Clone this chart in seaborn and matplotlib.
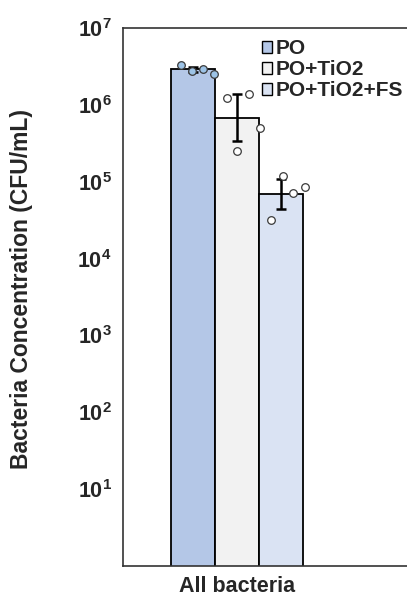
import numpy as np
import pandas as pd
import matplotlib
matplotlib.use("Agg")
import matplotlib.pyplot as plt
import seaborn as sns

# ---- data ----
category = ["All bacteria"]
groups = ["PO", "PO+TiO2", "PO+TiO2+FS"]
means = [2.9e6, 6.7e5, 6.9e4]
err_low = [2.7e6, 3.4e5, 4.4e4]
err_high = [3.1e6, 1.4e6, 1.1e5]
# replicate points per group
pts_PO = [3.27e6, 2.74e6, 2.9e6, 2.57e6]
pts_TiO2 = [1.25e6, 1.41e6, 5.0e5, 2.5e5]
pts_FS = [1.18e5, 8.5e4, 7.1e4, 3.2e4]
# horizontal jitter of replicate points (fraction of bar width)
jit_PO = [-0.27, -0.02, 0.23, 0.48]
jit_TiO2 = [-0.23, 0.27, 0.52, 0.0]
jit_FS = [0.05, 0.55, 0.27, -0.23]
ytick_vals = [1e1, 1e2, 1e3, 1e4, 1e5, 1e6, 1e7]
ytick_labels = [r"$\mathbf{10^{1}}$", r"$\mathbf{10^{2}}$", r"$\mathbf{10^{3}}$",
                r"$\mathbf{10^{4}}$", r"$\mathbf{10^{5}}$", r"$\mathbf{10^{6}}$",
                r"$\mathbf{10^{7}}$"]

bar_colors = ["#b4c7e7", "#f2f2f2", "#dae3f3"]
pt_face = ["#9dc3e6", "#ffffff", "#ffffff"]

sns.set_style("white")
plt.rcParams["font.family"] = ["Liberation Sans", "DejaVu Sans"]
plt.rcParams["font.weight"] = "bold"
plt.rcParams["mathtext.fontset"] = "custom"
plt.rcParams["mathtext.rm"] = "Liberation Sans:bold"
plt.rcParams["mathtext.bf"] = "Liberation Sans:bold"
plt.rcParams["mathtext.it"] = "Liberation Sans:bold"

fig = plt.figure(figsize=(4.07, 6.0), dpi=100)
ax = fig.add_axes([0.302, 0.057, 0.70, 0.896])

df = pd.DataFrame({"cat": category * len(groups), "group": groups, "value": means})
sns.barplot(data=df, x="cat", y="value", hue="group", hue_order=groups,
            palette=bar_colors, width=0.8, gap=0, edgecolor="black",
            linewidth=1.3, errorbar=None, ax=ax, legend=True, saturation=1)

ax.set_yscale("log")

n = len(groups)
bw = 0.8 / n
all_pts = [pts_PO, pts_TiO2, pts_FS]
all_jit = [jit_PO, jit_TiO2, jit_FS]
for i, g in enumerate(groups):
    xc = -0.4 + bw * (i + 0.5)
    ax.errorbar([xc], [means[i]],
                yerr=[[means[i] - err_low[i]], [err_high[i] - means[i]]],
                fmt="none", ecolor="black", elinewidth=1.8, capsize=3.5,
                capthick=1.8, zorder=4)
    pdf = pd.DataFrame({"x": [xc + j * bw for j in all_jit[i]], "y": all_pts[i]})
    sns.scatterplot(data=pdf, x="x", y="y", ax=ax, s=30, color=pt_face[i],
                    edgecolor="#3a3a3a", linewidth=0.9, zorder=5, legend=False)

ax.set_ylim(1, 1e7)
ax.set_xlim(-0.688, 1.032)
ax.set_yticks(ytick_vals)
ax.set_yticklabels(ytick_labels)
ax.yaxis.set_minor_locator(matplotlib.ticker.NullLocator())
ax.tick_params(axis="y", length=0, pad=8, labelsize=15.5)
ax.tick_params(axis="x", length=0, pad=7, labelsize=15.5)
ax.set_xticks([0])
ax.set_xticklabels(category, fontweight="bold")
ax.set_xlabel("")
ax.set_ylabel("Bacteria Concentration (CFU/mL)", fontsize=16.5, fontweight="bold")
ax.yaxis.set_label_coords(-0.315, 0.515)
for s in ax.spines.values():
    s.set_color("#333333")
    s.set_linewidth(1.2)

leg = ax.legend(loc="upper left", bbox_to_anchor=(0.46, 0.995), frameon=False,
                fontsize=15, handlelength=0.48, handleheight=0.48,
                handletextpad=0.18, labelspacing=0.1, borderaxespad=0)
for h in leg.legend_handles:
    h.set_edgecolor("black")
    h.set_linewidth(1.0)
for t in leg.get_texts():
    t.set_fontweight("bold")

fig.savefig("out.png", dpi=100)
